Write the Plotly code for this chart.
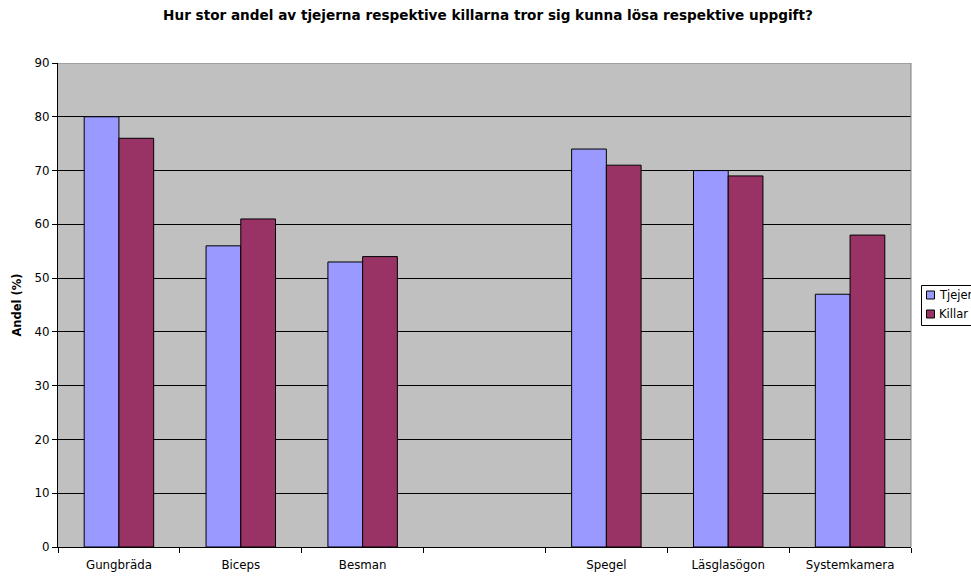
import plotly.graph_objects as go

categories = ["Gungbräda", "Biceps", "Besman", " ", "Spegel", "Läsglasögon", "Systemkamera"]
tjejer = [80, 56, 53, None, 74, 70, 47]
killar = [76, 61, 54, None, 71, 69, 58]
y_ticks = [0, 10, 20, 30, 40, 50, 60, 70, 80, 90]
series_names = ["Tjejer", "Killar"]
series_colors = ["#9999FF", "#993366"]

FONT = "DejaVu Sans, Liberation Sans, Arial, sans-serif"

W, H = 971, 576
L, R, T, B = 58, 60, 63, 29
PW, PH = W - L - R, H - T - B


def px_x(px):
    return (px - L) / PW


def px_y(py):
    return (H - B - py) / PH


fig = go.Figure()
for name, vals, col in zip(series_names, [tjejer, killar], series_colors):
    fig.add_trace(go.Bar(name=name, x=categories, y=vals,
                         marker=dict(color=col, line=dict(color="#000000", width=1))))

fig.update_layout(
    width=W, height=H,
    margin=dict(l=L, r=R, t=T, b=B, autoexpand=False),
    paper_bgcolor="white",
    plot_bgcolor="#C0C0C0",
    barmode="group",
    bargap=0.43,
    bargroupgap=0,
    font=dict(family=FONT, size=11, color="black"),
    title=dict(text="<b>Hur stor andel av tjejerna respektive killarna tror sig kunna lösa respektive uppgift?</b>",
               x=px_x(488), xref="paper", xanchor="center", y=1 - 15 / H, yanchor="middle",
               font=dict(size=13.6, family=FONT, color="black")),
    showlegend=False,
)

fig.update_xaxes(
    type="category", categoryorder="array", categoryarray=categories,
    tickson="boundaries", ticks="outside", ticklen=5, tickcolor="black",
    showline=True, linecolor="black", linewidth=1,
    showgrid=False, tickfont=dict(size=11.8, family=FONT),
    ticklabelstandoff=7,
)
fig.update_yaxes(
    range=[0, 90], tickvals=y_ticks, ticks="outside", ticklen=5, tickcolor="black",
    showline=True, linecolor="black", linewidth=1,
    showgrid=True, gridcolor="black", gridwidth=1, zeroline=False,
    tickfont=dict(size=11.8, family=FONT),
    title=dict(text="<b>Andel (%)</b>", font=dict(size=11.5, family=FONT), standoff=10),
)

# gray top / right border of plot area
fig.add_shape(type="line", xref="paper", yref="y", x0=0, x1=1, y0=90, y1=90,
              line=dict(color="#808080", width=1), layer="above")
fig.add_shape(type="line", xref="paper", yref="paper", x0=1, x1=1, y0=0, y1=1,
              line=dict(color="#808080", width=1), layer="above")

# legend box (extends past right edge, as in the reference)
fig.add_shape(type="rect", xref="paper", yref="paper",
              x0=px_x(921.5), x1=px_x(990), y0=px_y(285.5), y1=px_y(325.5),
              line=dict(color="black", width=1), fillcolor="white", layer="above")
for i, (name, col) in enumerate(zip(series_names, series_colors)):
    cy = 295 + 19 * i
    fig.add_shape(type="rect", xref="paper", yref="paper",
                  x0=px_x(926.5), x1=px_x(934.5), y0=px_y(cy - 4), y1=px_y(cy + 4),
                  line=dict(color="black", width=1), fillcolor=col, layer="above")
    fig.add_annotation(text=name, xref="paper", yref="paper", x=px_x(936.5), y=px_y(cy),
                       xanchor="left", yanchor="middle", showarrow=False,
                       font=dict(size=11.5, family=FONT, color="black"))

fig.write_html("out.html")
